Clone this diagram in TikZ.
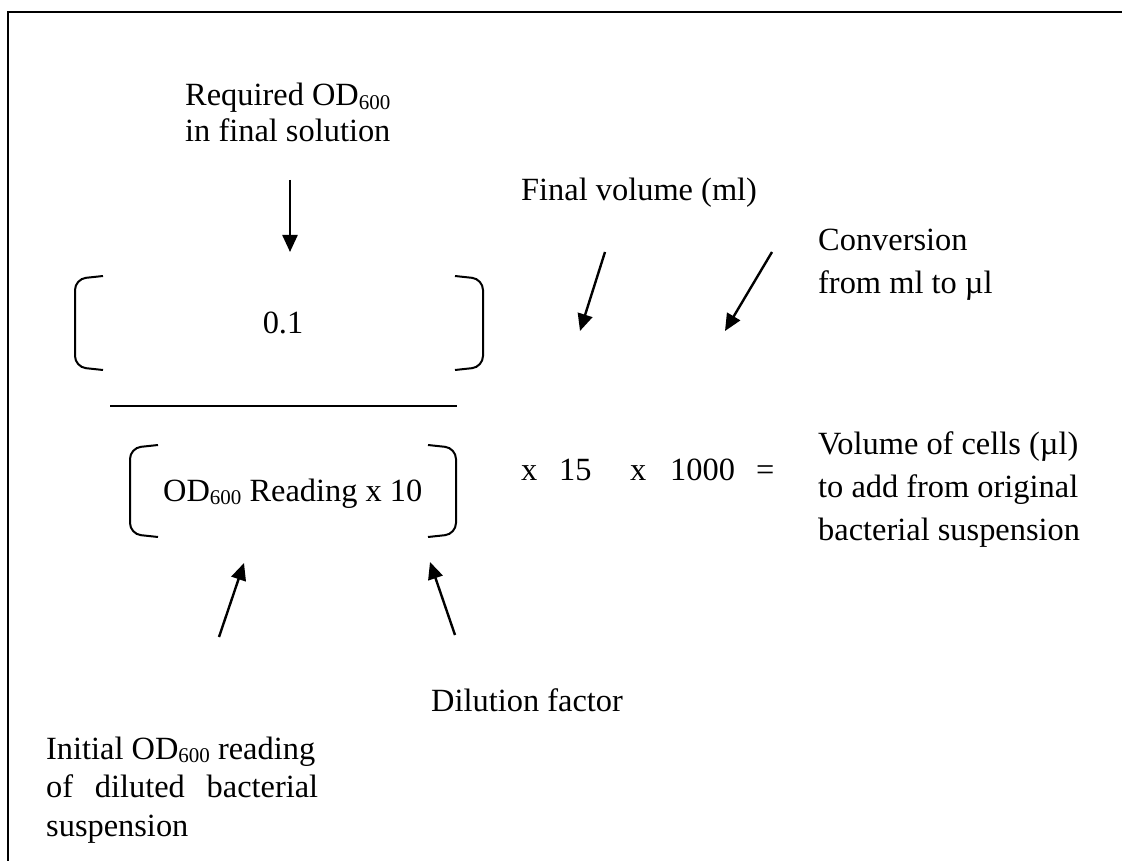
\documentclass[tikz,border=0pt]{standalone}
\usepackage{fontspec}
\setmainfont{Liberation Serif}
\usetikzlibrary{arrows.meta}
\newcommand{\sub}[1]{\raisebox{-3.5pt}{\fontsize{21}{21}\selectfont #1}}
\begin{document}
\begin{tikzpicture}[x=1pt,y=-1pt,
  txt/.style={inner sep=0pt,anchor=base west,font=\fontsize{32.4}{37}\selectfont},
  arr/.style={line width=2.4pt,-{Triangle[length=17pt,width=15pt]}},
  brk/.style={line width=2pt,rounded corners=11pt},
  frame/.style={line width=2.6pt}]
\useasboundingbox (0,0) rectangle (1122,861);
% frame (only top and left edges visible)
\draw[frame] (8,870) -- (8,12) -- (1130,12);
% upper term
\node[txt] (req1) at (185,106) {Required OD\sub{600}};
\node[txt] (req2) at (185,142) {in final solution};
\coordinate (reqA) at (290,180);
\coordinate (reqB) at (290,252);
\draw[arr] (reqA) -- (reqB);
\node[txt,anchor=base] (num) at (283,333) {0.1};
\draw[brk] (103,276) -- (75,279) -- (75,367) -- (103,370);
\draw[brk] (455,276) -- (483,279) -- (483,367) -- (455,370);
% fraction bar
\coordinate (barL) at (110,406);
\coordinate (barR) at (457,406);
\draw[line width=1.6pt] (barL) -- (barR);
% lower term
\node[txt] (den) at (163,501) {OD\sub{600} Reading x 10};
\draw[brk] (158,445) -- (130,448) -- (130,534) -- (158,537);
\draw[brk] (428,445) -- (456,448) -- (456,534) -- (428,537);
% multipliers
\node[txt] (x1) at (521,480) {x};
\node[txt] (n15) at (559,480) {15};
\node[txt] (x2) at (630,480) {x};
\node[txt] (n1000) at (670,480) {1000};
\node[txt] (eq) at (756,480) {=};
\node[txt] (vol1) at (818,454) {Volume of cells (µl)};
\node[txt] (vol2) at (818,497) {to add from original};
\node[txt] (vol3) at (818,540) {bacterial suspension};
% right labels
\node[txt] (fin) at (521,201) {Final volume (ml)};
\node[txt] (conv1) at (818,251) {Conversion};
\node[txt] (conv2) at (818,294) {from ml to µl};
\coordinate (finA) at (605,252);
\coordinate (finB) at (580,331);
\draw[arr] (finA) -- (finB);
\coordinate (convA) at (772,252);
\coordinate (convB) at (725,331);
\draw[arr] (convA) -- (convB);
% bottom labels
\coordinate (iniA) at (219,637);
\coordinate (iniB) at (244,563);
\draw[arr] (iniA) -- (iniB);
\coordinate (dilA) at (455,635);
\coordinate (dilB) at (430,562);
\draw[arr] (dilA) -- (dilB);
\node[txt] (dil) at (431,711) {Dilution factor};
\node[txt] (ini1) at (46,759) {Initial OD\sub{600} reading};
\node[txt] (ini2) at (46,797) {\makebox[272pt][s]{of diluted bacterial}};
\node[txt] (ini3) at (46,836) {suspension};
\end{tikzpicture}
\end{document}
